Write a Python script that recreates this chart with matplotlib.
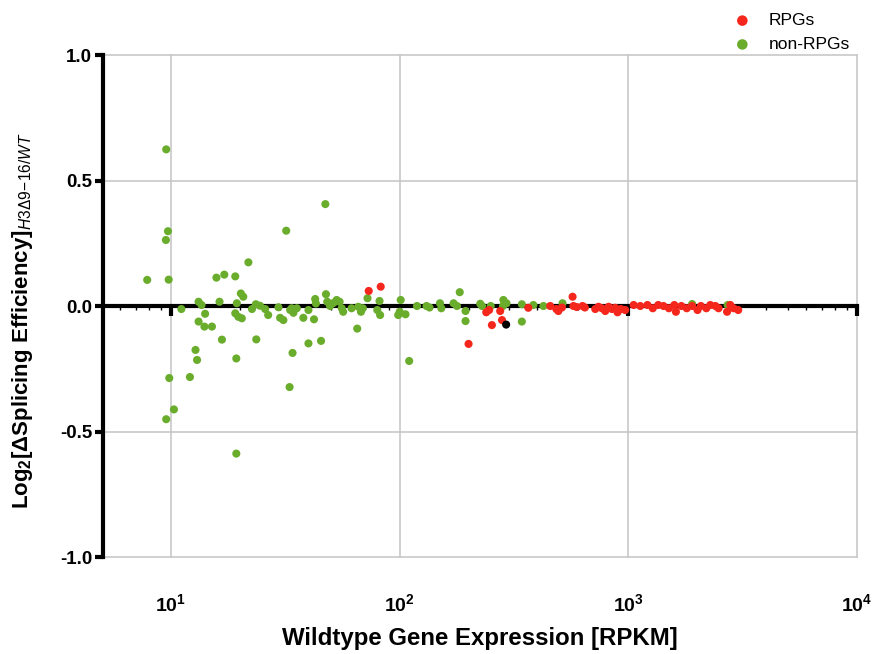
#!/usr/bin/env python3

import matplotlib
matplotlib.use("Agg")
import matplotlib.pyplot as plt

plt.rcParams["font.family"] = ["Liberation Sans", "DejaVu Sans"]
plt.rcParams["mathtext.fontset"] = "custom"
plt.rcParams["mathtext.rm"] = "Liberation Sans"
plt.rcParams["mathtext.bf"] = "Liberation Sans:bold"
plt.rcParams["mathtext.it"] = "Liberation Sans:italic"

# non-RPGs: wildtype expression (RPKM) and log2 change in splicing efficiency
green_x = [9.53, 47.3, 31.9, 9.7, 9.5, 21.8, 7.87, 9.77, 15.8, 17.1, 19.1,
           20.2, 20.7, 13.2, 13.6, 16.3, 19.4, 11.1, 14.1, 13.2, 14.0, 15.1,
           19.1, 19.7, 20.4, 22.6, 23.5, 24.5, 25.8, 26.6, 29.5, 30.0, 31.0,
           33.2, 34.3, 35.5, 33.7, 37.9, 39.9, 42.2, 42.7, 43.0, 47.6, 48.2,
           49.6, 51.3, 53.0, 54.6, 55.8, 56.6, 61.6, 65.9, 67.7, 69.0, 72.3,
           81.6, 79.8, 82.1, 65.2, 101, 100, 106, 98.5, 119, 131, 135, 150,
           152, 172, 178, 183, 194, 194, 225, 229, 250, 284, 293, 283, 342,
           342, 384, 425, 515, 16.7, 23.6, 12.8, 13.0, 19.3, 34.0, 39.9, 45.3,
           9.83, 12.1, 33.0, 10.3, 9.53, 19.3, 110, 1899, 2717]
green_y = [0.624, 0.406, 0.300, 0.298, 0.263, 0.174, 0.104, 0.105, 0.113,
           0.125, 0.118, 0.050, 0.037, 0.017, 0.004, 0.017, 0.011, -0.012,
           -0.031, -0.062, -0.082, -0.082, -0.029, -0.043, -0.049, -0.012,
           0.007, 0.001, -0.012, -0.036, -0.005, -0.047, -0.056, -0.016,
           -0.027, -0.009, -0.009, -0.047, -0.016, -0.053, 0.028, 0.010,
           0.047, 0.017, 0.000, 0.012, 0.024, 0.017, -0.009, -0.023, -0.009,
           -0.003, -0.023, -0.009, 0.031, 0.020, -0.016, -0.036, -0.090,
           0.024, -0.023, -0.033, -0.036, 0.000, 0.000, -0.006, 0.011,
           -0.009, 0.011, 0.000, 0.055, -0.020, -0.060, 0.009, 0.000, 0.000,
           0.024, 0.011, 0.000, 0.007, -0.062, 0.004, 0.000, 0.011, -0.134,
           -0.133, -0.175, -0.215, -0.209, -0.187, -0.149, -0.139, -0.287,
           -0.283, -0.323, -0.412, -0.451, -0.588, -0.219, 0.008, 0.004]

# RPGs
red_x = [73.2, 82.6, 200, 239, 246, 275, 280, 253, 365, 455, 484, 494, 512,
         570, 575, 594, 630, 645, 716, 740, 766, 792, 819, 847, 876, 896,
         927, 968, 1054, 1127, 1211, 1278, 1350, 1424, 1503, 1587, 1613,
         1704, 1799, 1899, 2005, 2075, 2191, 2280, 2400, 2478, 2700, 2789,
         2883, 3020]
red_y = [0.060, 0.077, -0.151, -0.025, -0.016, -0.020, -0.056, -0.076,
         -0.007, 0.000, -0.012, -0.020, -0.006, 0.037, 0.000, -0.004, 0.000,
         -0.006, -0.012, -0.003, -0.009, -0.020, -0.003, -0.012, -0.007,
         -0.025, -0.012, -0.016, 0.004, 0.000, 0.004, -0.009, 0.004, 0.000,
         -0.009, 0.004, -0.023, 0.000, -0.009, 0.000, -0.016, 0.000, -0.009,
         0.004, 0.000, -0.009, -0.023, 0.004, -0.009, -0.016]

# unclassified gene
other_x = [292]
other_y = [-0.074]

x_ticks = [10, 100, 1000, 10000]
x_tick_labels = [r"$\mathbf{10^{1}}$", r"$\mathbf{10^{2}}$",
                 r"$\mathbf{10^{3}}$", r"$\mathbf{10^{4}}$"]
y_ticks = [1.0, 0.5, 0.0, -0.5, -1.0]
y_tick_labels = ["1.0", "0.5", "0.0", "-0.5", "-1.0"]

green = "#6aad2c"
red = "#f5261c"

fig = plt.figure(figsize=(8.74, 6.54), dpi=100)
ax = fig.add_axes([0.118, 0.1483, 0.8627, 0.7676])

ax.set_xscale("log")
ax.set_xlim(5.05, 10000)
ax.set_ylim(-1.0, 1.0)

for xv in x_ticks:
    ax.axvline(xv, color="#c8c8c8", lw=1.2, zorder=0, clip_on=False)
for yv in [1.0, 0.5, -0.5, -1.0]:
    ax.axhline(yv, color="#c8c8c8", lw=1.2, zorder=0, clip_on=False)

ax.scatter(green_x, green_y, s=34, color=green, edgecolors="none", zorder=3,
           label="non-RPGs")
ax.scatter(red_x, red_y, s=34, color=red, edgecolors="none", zorder=3,
           label="RPGs")
ax.scatter(other_x, other_y, s=34, color="black", edgecolors="none", zorder=3)

for side in ["top", "right"]:
    ax.spines[side].set_visible(False)
ax.spines["left"].set_linewidth(3)
ax.spines["bottom"].set_linewidth(3)
ax.spines["bottom"].set_position(("data", 0))
ax.spines["bottom"].set_zorder(2)

ax.set_yticks(y_ticks)
ax.set_yticklabels(y_tick_labels, fontsize=13.5, fontweight="bold")
ax.tick_params(axis="y", direction="out", length=6, width=3, pad=2)
ax.set_xticks(x_ticks)
ax.tick_params(axis="x", which="major", direction="out", length=7, width=3,
               labelbottom=False)
ax.tick_params(axis="x", which="minor", direction="out", length=3, width=1)

sec = ax.secondary_xaxis(0)
sec.set_xticks(x_ticks)
sec.set_xticklabels(x_tick_labels, fontsize=14)
sec.tick_params(length=0, pad=26)
sec.xaxis.set_minor_locator(matplotlib.ticker.NullLocator())
sec.spines["bottom"].set_visible(False)

fig.text(0.549, 0.024, "Wildtype Gene Expression [RPKM]", ha="center",
         va="center", fontsize=17.3, fontweight="bold")
fig.text(0.026, 0.51,
         r"$\mathbf{Log_2[\Delta Splicing\ Efficiency]}_{\mathit{H3\Delta 9\!-\!16/WT}}$",
         rotation=90, ha="center", va="center", fontsize=16)

handles, labels = ax.get_legend_handles_labels()
fig.legend(handles[::-1], labels[::-1], loc="upper right",
           bbox_to_anchor=(0.99, 1.004), frameon=False, fontsize=12.5,
           handletextpad=0.5, labelspacing=0.5, markerscale=1.3)

fig.savefig("out.png", dpi=100)
